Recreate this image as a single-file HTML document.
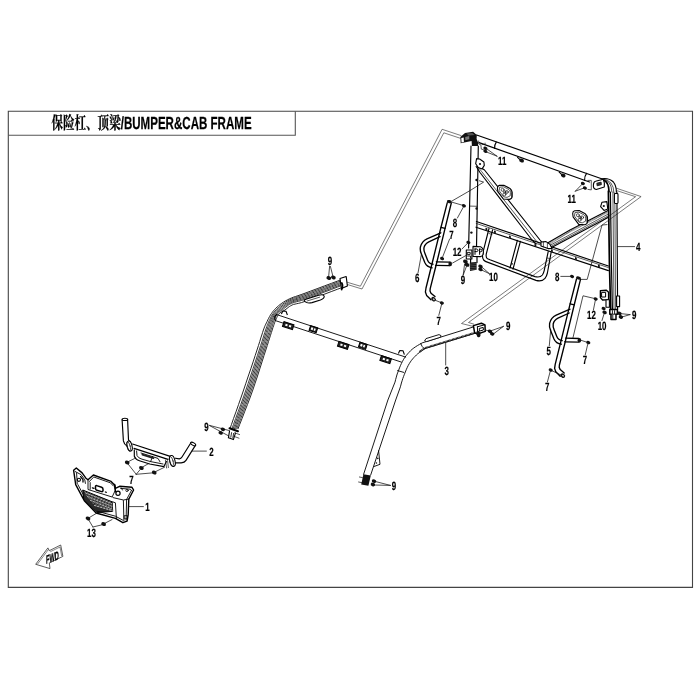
<!DOCTYPE html>
<html lang="zh"><head><meta charset="utf-8"><title>保险杠、顶梁/BUMPER&amp;CAB FRAME</title>
<style>
html,body{margin:0;padding:0;background:#fff;}
body{width:700px;height:700px;overflow:hidden;position:relative;font-family:"Liberation Sans","Noto Sans CJK SC",sans-serif;}
svg{position:absolute;left:0;top:0;display:block;will-change:transform;}
text{text-rendering:geometricPrecision;}
.l{fill:none;stroke:#000;stroke-width:1.15;stroke-linecap:round;stroke-linejoin:round;}
.t{fill:none;stroke:#111;stroke-width:0.7;stroke-linecap:round;stroke-linejoin:round;}
.h{fill:none;stroke:#000;stroke-width:1.7;stroke-linecap:round;stroke-linejoin:round;}
.w{fill:#fff;stroke:#000;stroke-width:1.1;stroke-linejoin:round;}
.g{fill:#888;stroke:#111;stroke-width:0.8;stroke-linejoin:round;}
.d{fill:#333;stroke:#111;stroke-width:0.8;stroke-linejoin:round;}
.k{fill:#111;stroke:none;}
.n{font-family:"Liberation Sans",sans-serif;font-weight:bold;fill:#000;text-anchor:middle;stroke:#000;stroke-width:0.22;}
.ld{fill:none;stroke:#111;stroke-width:0.75;stroke-linecap:round;}
#handles .l{stroke-width:1.35;}
.ph{fill:none;stroke:#222;stroke-width:0.6;stroke-linejoin:miter;}
</style></head><body>
<svg width="700" height="700" viewBox="0 0 700 700">
<g id="frame">
<path d="M8.3 111.2 H692.5 V587.4 H8.3Z" fill="none" stroke="#444" stroke-width="1.1"/>
<path d="M8.3 135.2 H295.3 V111.2" fill="none" stroke="#555" stroke-width="1.1"/>
<text transform="translate(51.4 129.1) scale(0.66 1)" font-size="17.5" font-weight="bold" fill="#000" stroke="#000" stroke-width="0.25" style="font-family:'Liberation Sans','Noto Serif CJK SC',sans-serif">保险杠、顶梁/BUMPER&amp;CAB FRAME</text>
</g>
<g id="phantom">
<path class="ph" d="M461.4 135.7 L442.1 129.3 L360.4 286.2 L347.0 282.2"/>
<path class="ph" d="M460.7 138.4 L443.8 132.8 L362.0 289.0 L347.0 284.4"/>
<path class="ph" d="M616.1 188.1 L641.1 196.6 L468.5 322.5 L474.0 324.2"/>
<path class="ph" d="M617.0 190.7 L635.6 196.7 L461.5 323.5 L474.0 326.6"/>
</g>
<g id="rear">
<path class="l" d="M476.6 135.0 L601.6 178.7"/>
<path class="l" d="M479.1 142.6 L584.4 180.2 L589.6 182.0"/>
<path class="l" d="M496.3 142.1 Q494.2 145 494.6 148.4"/>
<path class="l" d="M586.6 173.3 Q584.2 176.4 584.6 180.2"/>
<path class="l" d="M517.6 157.4 l2.6 2.4 l2.6 .4"/>
<ellipse class="k" cx="521.6" cy="160.6" rx="2.43" ry="1.86" transform="rotate(20 521.6 160.6)"/>
<path class="l" d="M559.2 172.2 l2.6 2.4 l2.6 .4"/>
<ellipse class="k" cx="563.2" cy="175.4" rx="2.43" ry="1.86" transform="rotate(20 563.2 175.4)"/>
<path class="k" d="M460.3 137.1 L465 132.9 L473.1 131.8 L476.8 135 L476.6 139 L478 142.3 L478 146.1 L471.9 146.1 L471.6 141 L460.7 143.3Z"/>
<path d="M461.3 137.9 L463.7 137.4 L463.9 142 L461.5 142.5Z" fill="#fff"/>
<path d="M465.2 137 L469.2 136.1 L469.3 139.3 L465.3 140.2Z" fill="#777"/>
<path d="M466.5 133.6 L472.3 133 L474.6 135 L468.5 135.6Z" fill="#555"/>
<path class="l" d="M471.0 146.0 L468.6 248.0"/>
<path class="l" d="M478.3 146.0 L476.5 247.5"/>
<path class="t" d="M469.9 206.1 L477.3 206.3"/>
<circle class="k" cx="476.5" cy="180.0" r="1.2"/>
<circle class="k" cx="476.6" cy="208.5" r="1.2"/>
<circle class="k" cx="471.4" cy="232.6" r="1.2"/>
<ellipse class="k" cx="468.4" cy="242.4" rx="2.11" ry="1.61" transform="rotate(20 468.4 242.4)"/>
<path class="t" d="M478.7 141 V144 L480.9 144.9 L481.3 149.1 L484.3 150 M482.1 144.4 H485.1 V143.1"/>
<ellipse class="k" cx="485.4" cy="148.3" rx="2.11" ry="1.61" transform="rotate(20 485.4 148.3)"/>
<ellipse class="k" cx="485.4" cy="151.2" rx="2.11" ry="1.61" transform="rotate(20 485.4 151.2)"/>
<path class="ld" d="M486.5 148.7 L497.0 156.2"/>
<path class="ld" d="M486.5 152.0 L497.0 156.2"/>
<path class="t" d="M587.9 180.4 H591.3 V189.9 L587.9 189.4"/>
<ellipse class="k" cx="582.9" cy="183.4" rx="2.11" ry="1.61" transform="rotate(20 582.9 183.4)"/>
<ellipse class="k" cx="584.9" cy="188.0" rx="2.11" ry="1.61" transform="rotate(20 584.9 188.0)"/>
<path class="ld" d="M575.3 191.2 L582.0 184.3"/>
<path class="ld" d="M575.3 191.2 L583.7 188.1"/>
<path class="w" d="M595.5 181.3 L603.3 179.2 Q605 183 604.3 187 L596.3 189.5 Q593 189 593.4 185 Q593.6 181.6 595.5 181.3Z"/>
<path class="d" d="M596.8 183.2 l4.3 -1.1 l.3 2.6 l-4.3 1.1Z"/>
<path class="l" d="M601.6 178.7 Q609 177.6 613.4 182 Q616.3 185.6 616.4 192"/>
<path class="h" d="M604.1 180.4 Q608.6 182 609 191.6"/>
<path class="t" d="M603.3 179.4 Q611.3 180 611.9 192"/>
<path class="t" d="M602.5 179 Q613.6 179.6 614 193"/>
<path class="h" d="M608.4 191.0 L609.4 262.0 L610.6 309.6"/>
<path class="l" d="M610.4 192.0 L611.4 262.0 L612.4 309.6" style="stroke-width:1.2"/>
<path class="t" d="M612.9 192.0 L614.0 309.6"/>
<path class="t" d="M614.8 193.0 L615.6 309.6"/>
<path class="l" d="M616.9 192.0 L617.6 309.6"/>
<path class="w" d="M614.4 194.4 q0 -.9 .9 -.9 h1.8 q.9 0 .9 .9 v8.2 q0 .9 -.9 .9 h-1.8 q-.9 0 -.9 -.9Z"/>
<path class="w" d="M602 202.2 L606.8 201.6 L607.8 209 L604 210.4 L600.6 206.6Z"/>
<circle class="k" cx="603.8" cy="206.0" r="1.1"/>
</g>
<g id="rear2">
<path class="l" d="M476.2 166.5 L480.0 172.5 L532.0 240.0 L536.0 244.0"/>
<path class="t" d="M478.6 167.8 L481.6 171.5 L535.5 240.0 L539.0 243.5"/>
<path class="l" d="M482.6 168.8 L484.5 170.0 L540.0 240.0 L543.0 243.6"/>
<path class="w" d="M476.6 158.6 L479.6 159 L483.9 162 L484.3 165.4 L482.1 168.9 L478.3 167.6 L475.7 163.7Z"/>
<circle class="k" cx="480.0" cy="164.0" r="1.1"/>
<g transform="translate(505.0 191.8) rotate(0.0) scale(1.00)">
<path class="w" d="M-5.6 -6.4 Q-7.6 -6 -7.6 -3.6 L-7.2 -0.4 L-1.6 7.2 L4.4 7.6 Q7 7 7.2 4.6 L7.2 0.6 Q7 -1.6 5 -3.4 L-1.2 -6.6Z" style="stroke-width:1.1"/>
<path class="t" d="M-5 -4.6 L-1.4 -5 L4 -2.2 Q5.4 -1 5.4 1 L5.2 4 L2 5.6 L-1.4 5 L-5.6 -0.8Z"/>
<path class="t" d="M5.6 -2.4 Q7 0 6.6 5"/>
<circle class="t" cx="-2.4" cy="-2" r="1.5"/><circle class="t" cx="1.8" cy="0.2" r="1.5"/><circle class="t" cx="-0.6" cy="2.6" r="1.5"/><circle class="t" cx="-0.2" cy="0.2" r="1.2"/>
</g>
<path class="l" d="M545.4 244.3 L570.0 230.0 L608.0 210.4"/>
<path class="h" d="M546.6 245.4 L570.0 231.6 L608.0 212.0" style="stroke:#333;stroke-width:1.6;stroke-dasharray:0.6 0.6;stroke-linecap:butt"/>
<path class="t" d="M548.5 246.2 L608.0 214.2"/>
<path class="t" d="M550.0 247.0 L608.0 216.0"/>
<path class="l" d="M551.6 247.6 L608.0 217.6"/>
<g transform="translate(580.3 217.2) rotate(0.0) scale(1.00)">
<path class="w" d="M-5.6 -6.4 Q-7.6 -6 -7.6 -3.6 L-7.2 -0.4 L-1.6 7.2 L4.4 7.6 Q7 7 7.2 4.6 L7.2 0.6 Q7 -1.6 5 -3.4 L-1.2 -6.6Z" style="stroke-width:1.1"/>
<path class="t" d="M-5 -4.6 L-1.4 -5 L4 -2.2 Q5.4 -1 5.4 1 L5.2 4 L2 5.6 L-1.4 5 L-5.6 -0.8Z"/>
<path class="t" d="M5.6 -2.4 Q7 0 6.6 5"/>
<circle class="t" cx="-2.4" cy="-2" r="1.5"/><circle class="t" cx="1.8" cy="0.2" r="1.5"/><circle class="t" cx="-0.6" cy="2.6" r="1.5"/><circle class="t" cx="-0.2" cy="0.2" r="1.2"/>
</g>
<path class="l" d="M476.4 221.5 L608.4 266.0"/>
<path class="t" d="M476.2 223.4 L608.4 267.6"/>
<path class="l" d="M476.0 227.2 L608.4 270.6"/>
<path class="k" d="M485.5 227.7 l1.8 .6 l0 2.2 l-1.8 -.6Z"/>
<path class="k" d="M494.0 230.5 l1.8 .6 l0 2.2 l-1.8 -.6Z"/>
<path class="k" d="M509.0 235.4 l1.8 .6 l0 2.2 l-1.8 -.6Z"/>
<path class="k" d="M534.5 243.8 l1.8 .6 l0 2.2 l-1.8 -.6Z"/>
<path class="k" d="M551.0 249.2 l1.8 .6 l0 2.2 l-1.8 -.6Z"/>
<path class="k" d="M575.0 257.1 l1.8 .6 l0 2.2 l-1.8 -.6Z"/>
<path class="k" d="M598.0 264.6 l1.8 .6 l0 2.2 l-1.8 -.6Z"/>
<path class="w" d="M541 242 L546 241.6 L550 244.4 L552 248.4 L548 248.6 L541 246Z"/>
<path class="t" d="M543.4 242.0 L543.4 246.8"/>
<path class="t" d="M547.4 243.0 L547.4 248.4"/>
</g>
<g id="rear3">
<path class="l" d="M489 228.5 L482.9 252.6 Q481.8 257.6 483.6 260 Q485 261.6 488 262.4 L536 280.4 Q542 282 545 278.4 Q546.6 276.4 547.4 273 L551.2 252"/>
<path class="l" d="M492.6 229.8 L486.3 253.9 Q485.6 257.6 487.6 258.8 L490 259.8 L535 276.6 Q540 278 542.4 275 Q543.6 273 544.2 270.6 L548.2 251.6"/>
<path class="l" d="M517.4 240.4 L510.0 268.0"/>
<path class="l" d="M520.4 241.4 L513.0 269.2"/>
<circle class="k" cx="512.0" cy="263.8" r="0.9"/>
<path class="t" d="M489.0 233.5 L492.0 234.5"/>
<path class="t" d="M547.2 258.0 L550.2 258.6"/>
<path class="w" d="M466.3 250 h5.6 v9 h-5.6Z" style="stroke-width:1.1"/>
<path class="l" d="M467.6 252.4 h2.6 v2 h-2.6Z M467.6 256 h3 v1.6" style="stroke-width:.9"/>
<path class="w" d="M473 246.4 L480.6 246.8 Q483.4 248 483.4 252.6 Q483.2 256.2 480.6 256.6 L473 256.4Z" style="stroke-width:1.1"/>
<path class="l" d="M475 248.8 V254.4 M475 249 h1.8 q1.2 .2 1.2 1.3 t-1.2 1.3 h-1.8 M479.6 249 V254.4 M479.6 249.2 h1.3 q1 .2 1 1.3 t-1 1.3 h-1.3" style="stroke-width:1"/>
<path class="l" d="M470.6 259 V262.6 M477 256.6 V262.6"/>
<path class="k" d="M469.8 262.6 L476.6 262 L476.6 269.8 L470 271Z"/>
<path class="t" d="M470 264.2 l6.6 -.6 M470 266 l6.6 -.6 M470 267.8 l6.6 -.6 M470 269.6 l6.6 -.6" style="stroke:#999;stroke-width:.4"/>
<ellipse class="k" cx="465.4" cy="261.6" rx="2.43" ry="1.86" transform="rotate(20 465.4 261.6)"/>
<ellipse class="k" cx="467.0" cy="264.8" rx="2.43" ry="1.86" transform="rotate(20 467.0 264.8)"/>
<ellipse class="k" cx="480.5" cy="266.3" rx="2.27" ry="1.74" transform="rotate(20 480.5 266.3)"/>
<ellipse class="k" cx="480.5" cy="269.4" rx="2.27" ry="1.74" transform="rotate(20 480.5 269.4)"/>
<path class="ld" d="M464.6 264.0 L463.2 275.0"/>
<path class="ld" d="M466.6 266.0 L463.2 275.0"/>
<path class="ld" d="M481.6 266.8 L489.3 273.6"/>
<path class="ld" d="M481.6 270.0 L489.3 273.6"/>
<path class="ld" d="M467.2 243.6 L462.0 249.0"/>
<path class="w" d="M600.4 290.6 L606.4 290.2 L608.6 292.2 L608.6 299.6 L602.6 300 L600.4 297.6Z" style="stroke-width:1.4"/>
<path class="l" d="M602 292.4 h3.6 v4.6 h-3.6Z" style="stroke-width:1"/>
<path class="w" d="M606 299.8 h3.4 v7.4 h-3.4Z"/>
<path class="w" d="M616.6 296 h3 v10.6 h-3Z"/>
<path class="w" d="M609.8 309.6 h7.6 v4.6 h-1.4 v5.2 h-5 v-5.2 h-1.2Z" style="stroke-width:1.5"/>
<path class="l" d="M611 314.2 h5 M612.8 315 v3.6 M614.6 310.6 v3 M612.4 310.6 v3" style="stroke-width:.9"/>
<ellipse class="k" cx="595.7" cy="298.9" rx="2.11" ry="1.61" transform="rotate(20 595.7 298.9)"/>
<ellipse class="k" cx="603.6" cy="308.6" rx="2.11" ry="1.61" transform="rotate(20 603.6 308.6)"/>
<ellipse class="k" cx="604.6" cy="312.4" rx="2.27" ry="1.74" transform="rotate(20 604.6 312.4)"/>
<ellipse class="k" cx="619.4" cy="313.4" rx="2.27" ry="1.74" transform="rotate(20 619.4 313.4)"/>
<ellipse class="k" cx="620.9" cy="317.0" rx="2.27" ry="1.74" transform="rotate(20 620.9 317.0)"/>
<path class="ld" d="M620.5 313.6 L630.0 314.6"/>
<path class="ld" d="M622.0 317.0 L630.0 314.6"/>
<path class="ld" d="M604.0 314.0 L602.0 320.5"/>
<path class="ld" d="M595.4 300.0 L593.4 310.0"/>
<path class="ld" d="M617.4 246.6 L634.6 246.6"/>
</g>
<g id="handles" style="stroke-width:1.35">
<path class="l" d="M447.3 202.6 L440.8 228.0 L432.2 263.0 L426.0 288.0 L425.4 292.0 L426.6 295.4 L431.0 299.8"/>
<path class="l" d="M451.3 203.0 L445.0 228.6 L436.4 264.0 L430.2 288.6 L430.0 291.0 L431.0 293.2 L435.0 296.6"/>
<ellipse class="k" cx="449.3" cy="201.6" rx="2.5" ry="1.6" transform="rotate(12 449.3 201.6)"/>
<ellipse class="k" cx="433.6" cy="299.2" rx="2.6" ry="2" transform="rotate(40 433.6 299.2)"/>
<ellipse cx="433.8" cy="299.3" rx="1.1" ry=".8" fill="#bbb" transform="rotate(40 433.8 299.3)"/>
<path class="l" d="M441.0 227.4 L445.0 228.4"/>
<path class="l" d="M440.8 232.8 L427.0 238.8 Q421.8 241.2 420.4 247.0 Q419.8 250.6 421.4 254.0 L424.8 262.6 Q426.8 267.2 432.2 267.8"/>
<path class="l" d="M440.0 236.6 L428.8 241.8 Q424.8 243.8 424.0 247.6 Q423.6 250.4 424.8 253.0 L427.6 260.2 Q429.0 263.8 433.0 264.2"/>
<path class="l" d="M436.4 261.8 L449.6 262.1"/>
<path class="l" d="M435.6 265.4 L449.4 265.7"/>
<ellipse class="k" cx="450.2" cy="263.9" rx="1.8" ry="2.4" />
<path class="l" d="M576.5 279.0 L570.0 304.4 L561.4 339.4 L555.2 364.4 L554.6 368.4 L555.8 371.8 L560.2 376.2"/>
<path class="l" d="M580.5 279.4 L574.2 305.0 L565.6 340.4 L559.4 365.0 L559.2 367.4 L560.2 369.6 L564.2 373.0"/>
<ellipse class="k" cx="578.5" cy="278.0" rx="2.5" ry="1.6" transform="rotate(12 578.5 278.0)"/>
<ellipse class="k" cx="562.8" cy="375.6" rx="2.6" ry="2" transform="rotate(40 562.8 375.6)"/>
<ellipse cx="563.0" cy="375.7" rx="1.1" ry=".8" fill="#bbb" transform="rotate(40 563.0 375.7)"/>
<path class="l" d="M570.2 303.8 L574.2 304.8"/>
<path class="l" d="M570.0 309.2 L556.2 315.2 Q551.0 317.6 549.6 323.4 Q549.0 327.0 550.6 330.4 L554.0 339.0 Q556.0 343.6 561.4 344.2"/>
<path class="l" d="M569.2 313.0 L558.0 318.2 Q554.0 320.2 553.2 324.0 Q552.8 326.8 554.0 329.4 L556.8 336.6 Q558.2 340.2 562.2 340.6"/>
<path class="l" d="M565.6 338.2 L578.8 338.5"/>
<path class="l" d="M564.8 341.8 L578.6 342.1"/>
<ellipse class="k" cx="579.4" cy="340.3" rx="1.8" ry="2.4" />
</g>
<g id="labels">
<text class="n" transform="translate(502.3 164.7) scale(0.66 1)" font-size="12">11</text>
<text class="n" transform="translate(571.7 203.0) scale(0.66 1)" font-size="12">11</text>
<text class="n" transform="translate(638.2 250.7) scale(0.66 1)" font-size="12">4</text>
<text class="n" transform="translate(455.0 227.4) scale(0.66 1)" font-size="12">8</text>
<text class="n" transform="translate(451.4 238.7) scale(0.66 1)" font-size="12">7</text>
<text class="n" transform="translate(457.1 255.8) scale(0.66 1)" font-size="12">12</text>
<text class="n" transform="translate(417.1 282.4) scale(0.66 1)" font-size="12">6</text>
<text class="n" transform="translate(462.9 283.7) scale(0.66 1)" font-size="12">9</text>
<text class="n" transform="translate(493.4 280.7) scale(0.66 1)" font-size="12">10</text>
<text class="n" transform="translate(438.6 325.1) scale(0.66 1)" font-size="12">7</text>
<text class="n" transform="translate(557.3 281.4) scale(0.66 1)" font-size="12">8</text>
<text class="n" transform="translate(591.4 318.7) scale(0.66 1)" font-size="12">12</text>
<text class="n" transform="translate(602.1 330.1) scale(0.66 1)" font-size="12">10</text>
<text class="n" transform="translate(634.3 319.4) scale(0.66 1)" font-size="12">9</text>
<text class="n" transform="translate(548.6 355.1) scale(0.66 1)" font-size="12">5</text>
<text class="n" transform="translate(585.0 364.4) scale(0.66 1)" font-size="12">7</text>
<text class="n" transform="translate(547.1 391.4) scale(0.66 1)" font-size="12">7</text>
<text class="n" transform="translate(330.0 265.1) scale(0.66 1)" font-size="12">9</text>
<text class="n" transform="translate(508.2 330.4) scale(0.66 1)" font-size="12">9</text>
<text class="n" transform="translate(446.7 375.4) scale(0.66 1)" font-size="12">3</text>
<text class="n" transform="translate(206.4 430.8) scale(0.66 1)" font-size="12">9</text>
<text class="n" transform="translate(394.0 490.1) scale(0.66 1)" font-size="12">9</text>
<text class="n" transform="translate(211.4 455.8) scale(0.66 1)" font-size="12">2</text>
<text class="n" transform="translate(131.4 483.7) scale(0.66 1)" font-size="12">7</text>
<text class="n" transform="translate(147.4 510.8) scale(0.66 1)" font-size="12">1</text>
<text class="n" transform="translate(91.4 537.4) scale(0.66 1)" font-size="12">13</text>
</g>
<g id="leaders">
<ellipse class="k" cx="463.9" cy="205.7" rx="2.11" ry="1.61" transform="rotate(20 463.9 205.7)"/>
<path class="ld" d="M452.0 202.2 L463.0 205.4"/>
<path class="ld" d="M463.6 206.6 L457.4 218.0"/>
<path class="ld" d="M452.0 201.0 L470.0 190.6 L483.6 182.1 L479.4 180.8"/>
<ellipse class="k" cx="442.1" cy="258.6" rx="2.11" ry="1.61" transform="rotate(20 442.1 258.6)"/>
<path class="ld" d="M449.6 239.0 L442.4 257.6"/>
<path class="ld" d="M421.4 254.3 L418.0 273.0"/>
<path class="ld" d="M452.6 263.0 L466.2 255.4"/>
<ellipse class="k" cx="441.9" cy="302.9" rx="2.11" ry="1.61" transform="rotate(20 441.9 302.9)"/>
<path class="ld" d="M435.6 300.4 L441.0 302.6"/>
<path class="ld" d="M441.6 304.4 L438.8 315.4"/>
<ellipse class="k" cx="572.1" cy="276.4" rx="2.11" ry="1.61" transform="rotate(20 572.1 276.4)"/>
<path class="ld" d="M560.8 276.4 L571.0 276.4"/>
<path class="ld" d="M581.0 279.4 L587.2 279.4 L602.0 225.0 L607.0 224.6"/>
<path class="ld" d="M595.0 298.6 L583.0 295.8 L573.0 337.6"/>
<ellipse class="k" cx="588.3" cy="342.6" rx="2.11" ry="1.61" transform="rotate(20 588.3 342.6)"/>
<path class="ld" d="M581.4 340.4 L587.4 342.4"/>
<path class="ld" d="M587.8 344.0 L585.2 355.0"/>
<path class="ld" d="M550.7 330.0 L549.3 345.7"/>
<ellipse class="k" cx="550.7" cy="370.0" rx="2.11" ry="1.61" transform="rotate(20 550.7 370.0)"/>
<path class="ld" d="M551.6 370.6 L561.0 375.0"/>
<path class="ld" d="M550.2 371.4 L547.4 382.0"/>
</g>
<g id="main">
<path class="l" d="M342.0 279.4 L337.7 281.0 L331.6 283.3 L324.5 285.9 L317.1 288.7 L310.4 291.2 L305.0 293.2 L301.1 294.6 L298.0 295.7 L295.5 296.5 L293.4 297.2 L291.4 298.0 L289.3 298.9 L287.2 300.0 L285.2 301.0 L283.4 302.2 L281.7 303.3 L280.1 304.5 L278.6 305.7 L277.2 306.9 L275.9 308.2 L274.6 309.5 L273.5 310.8 L272.4 312.2 L271.4 313.6 L270.4 315.1 L269.5 316.7 L268.6 318.3 L267.8 319.9 L267.1 321.5 L266.4 322.9 L265.8 324.1 L265.4 325.0 L265.0 325.8 L264.6 326.8 L264.1 328.1 L263.4 330.0 L262.6 332.4 L261.8 335.0 L260.8 337.9 L259.8 341.4 L258.5 345.4 L257.0 350.0 L255.2 355.5 L253.1 361.9 L250.8 368.8 L248.3 376.0 L245.9 383.2 L243.6 390.0 L241.2 397.0 L238.6 404.4 L236.0 411.8 L233.5 418.6 L231.5 424.4 L230.0 428.6" style="stroke-width:0.95;stroke:#1a1a1a"/>
<path class="l" d="M341.9 280.6 L337.7 282.2 L331.6 284.5 L324.4 287.2 L317.1 289.9 L310.3 292.5 L305.0 294.4 L301.1 295.8 L298.1 296.8 L295.7 297.6 L293.6 298.2 L291.7 298.9 L289.7 299.8 L287.7 300.8 L285.9 301.9 L284.2 303.0 L282.6 304.2 L281.1 305.3 L279.7 306.5 L278.4 307.6 L277.1 308.7 L276.0 309.9 L274.9 311.1 L273.9 312.3 L273.0 313.6 L272.1 315.0 L271.3 316.4 L270.5 317.9 L269.8 319.4 L269.1 320.8 L268.5 322.2 L268.0 323.4 L267.5 324.4 L267.2 325.4 L266.8 326.5 L266.3 328.0 L265.6 330.0 L264.8 332.4 L264.0 335.0 L263.1 338.0 L262.0 341.4 L260.7 345.4 L259.2 350.0 L257.4 355.5 L255.3 361.9 L253.0 368.8 L250.6 376.0 L248.2 383.2 L245.9 390.0 L243.5 397.0 L240.8 404.4 L238.1 411.8 L235.6 418.6 L233.5 424.4 L232.0 428.6" style="stroke-width:0.85;stroke:#1a1a1a"/>
<path class="l" d="M341.9 281.9 L337.6 283.5 L331.5 285.8 L324.4 288.5 L317.0 291.2 L310.3 293.7 L305.0 295.7 L301.2 297.0 L298.2 297.9 L295.9 298.7 L293.9 299.3 L292.0 299.9 L290.1 300.7 L288.2 301.7 L286.5 302.8 L284.9 303.8 L283.4 304.9 L282.0 306.0 L280.7 307.1 L279.4 308.2 L278.2 309.2 L277.1 310.2 L276.1 311.3 L275.1 312.4 L274.2 313.6 L273.3 314.9 L272.5 316.2 L271.8 317.6 L271.1 319.0 L270.5 320.4 L269.9 321.8 L269.4 323.0 L268.9 324.1 L268.5 325.2 L268.1 326.4 L267.6 328.0 L266.9 330.0 L266.1 332.4 L265.3 335.1 L264.4 338.0 L263.3 341.4 L262.0 345.4 L260.5 350.0 L258.7 355.5 L256.6 361.9 L254.4 368.8 L252.0 376.0 L249.6 383.2 L247.3 390.0 L244.8 397.0 L242.1 404.4 L239.4 411.8 L236.9 418.6 L234.8 424.4 L233.2 428.6" style="stroke-width:0.85;stroke:#1a1a1a"/>
<path class="l" d="M341.8 283.1 L337.6 284.7 L331.4 287.0 L324.3 289.7 L317.0 292.5 L310.3 295.0 L305.0 296.9 L301.2 298.2 L298.3 299.1 L296.0 299.7 L294.1 300.3 L292.4 300.9 L290.6 301.6 L288.7 302.6 L287.1 303.6 L285.6 304.6 L284.2 305.7 L282.9 306.7 L281.6 307.7 L280.4 308.7 L279.3 309.6 L278.2 310.6 L277.2 311.5 L276.2 312.5 L275.4 313.6 L274.5 314.8 L273.8 316.0 L273.1 317.3 L272.5 318.7 L271.9 320.0 L271.3 321.4 L270.8 322.6 L270.3 323.8 L269.9 324.9 L269.5 326.3 L268.9 327.9 L268.2 330.0 L267.4 332.4 L266.6 335.1 L265.7 338.0 L264.6 341.4 L263.3 345.4 L261.8 350.0 L260.0 355.5 L258.0 361.9 L255.7 368.8 L253.4 376.0 L251.0 383.2 L248.7 390.0 L246.2 397.0 L243.5 404.4 L240.7 411.8 L238.2 418.6 L236.0 424.4 L234.5 428.6" style="stroke-width:0.85;stroke:#1a1a1a"/>
<path class="l" d="M341.8 284.4 L337.5 286.0 L331.4 288.3 L324.3 291.0 L316.9 293.7 L310.2 296.2 L305.0 298.1 L301.3 299.4 L298.4 300.2 L296.2 300.8 L294.4 301.3 L292.7 301.8 L291.0 302.6 L289.2 303.5 L287.7 304.4 L286.3 305.4 L285.0 306.4 L283.8 307.4 L282.6 308.4 L281.4 309.3 L280.3 310.1 L279.3 310.9 L278.3 311.7 L277.4 312.6 L276.5 313.6 L275.8 314.7 L275.1 315.8 L274.4 317.0 L273.8 318.3 L273.3 319.6 L272.7 320.9 L272.2 322.2 L271.7 323.4 L271.3 324.7 L270.8 326.1 L270.3 327.8 L269.6 330.0 L268.8 332.5 L267.9 335.1 L267.0 338.1 L265.9 341.4 L264.7 345.4 L263.2 350.0 L261.4 355.5 L259.3 361.9 L257.1 368.8 L254.8 376.0 L252.4 383.2 L250.0 390.0 L247.6 397.0 L244.8 404.4 L242.0 411.8 L239.4 418.6 L237.2 424.4 L235.7 428.6" style="stroke-width:0.85;stroke:#1a1a1a"/>
<path class="l" d="M341.7 285.5 L337.4 287.1 L331.3 289.5 L324.2 292.1 L316.9 294.9 L310.2 297.4 L305.0 299.3 L301.3 300.5 L298.5 301.3 L296.4 301.8 L294.6 302.3 L293.0 302.8 L291.4 303.4 L289.7 304.3 L288.2 305.2 L287.0 306.2 L285.8 307.2 L284.6 308.1 L283.5 309.0 L282.4 309.8 L281.3 310.5 L280.3 311.2 L279.4 311.9 L278.5 312.7 L277.7 313.6 L276.9 314.6 L276.3 315.6 L275.7 316.8 L275.1 317.9 L274.6 319.2 L274.0 320.5 L273.5 321.8 L273.1 323.1 L272.6 324.4 L272.2 326.0 L271.6 327.8 L270.9 330.0 L270.1 332.5 L269.2 335.1 L268.3 338.1 L267.2 341.5 L266.0 345.4 L264.5 350.0 L262.7 355.5 L260.7 361.9 L258.5 368.8 L256.1 376.0 L253.8 383.2 L251.4 390.0 L248.9 397.0 L246.1 404.4 L243.3 411.8 L240.7 418.6 L238.5 424.4 L236.9 428.6" style="stroke-width:0.85;stroke:#1a1a1a"/>
<path class="l" d="M341.6 287.7 L337.3 289.3 L331.2 291.6 L324.1 294.3 L316.8 297.1 L310.2 299.5 L305.0 301.4 L301.4 302.6 L298.7 303.3 L296.7 303.7 L295.1 304.1 L293.6 304.4 L292.1 305.0 L290.6 305.8 L289.3 306.6 L288.1 307.5 L287.0 308.4 L286.0 309.2 L285.0 310.0 L283.9 310.6 L282.9 311.2 L281.9 311.7 L281.0 312.2 L280.1 312.9 L279.3 313.6 L278.6 314.5 L277.9 315.4 L277.4 316.4 L276.8 317.5 L276.3 318.7 L275.7 320.0 L275.1 321.3 L274.6 322.7 L274.1 324.1 L273.6 325.8 L272.9 327.7 L272.2 330.0 L271.4 332.5 L270.5 335.2 L269.6 338.1 L268.5 341.5 L267.3 345.4 L265.8 350.0 L264.0 355.5 L262.0 361.9 L259.8 368.8 L257.5 376.0 L255.1 383.2 L252.8 390.0 L250.3 397.0 L247.5 404.4 L244.6 411.8 L242.0 418.6 L239.7 424.4 L238.1 428.6" style="stroke-width:0.95;stroke:#1a1a1a"/>
<path class="h" d="M229.6 428.3 L237.9 431.2" style="stroke-width:2.2"/>
<path class="w" d="M229.6 430.6 L228.4 437.8 L233.4 439.6 L235.6 432.6" style="stroke-width:1.1"/>
<path class="l" d="M231.6 432.6 l-.8 4.6 M233.6 433.4 l-.8 4.6" style="stroke-width:.8"/>
<path class="t" d="M234.6 432.8 L239.6 434.6"/>
<path class="t" d="M233.6 436.2 L239.0 438.2"/>
<path class="w" d="M340 278.6 L346.2 276.6 L347.4 286 L341.4 288.4Z"/>
<path class="h" d="M341.8 283 Q343.4 286 341.6 289.6"/>
<ellipse class="k" cx="328.8" cy="278.0" rx="2.43" ry="1.86" transform="rotate(20 328.8 278.0)"/>
<ellipse class="k" cx="333.4" cy="277.4" rx="2.43" ry="1.86" transform="rotate(20 333.4 277.4)"/>
<path class="ld" d="M329.6 266.4 L328.6 277.0"/>
<path class="ld" d="M330.4 266.4 L333.0 276.6"/>
<path class="w" d="M305 301.6 Q303 300.4 306 299.2 L318.6 295.2 Q323.6 294 324.2 296.2 Q324.6 298.4 320.4 300 L312 302.6 Q307 303.6 305 301.6Z" style="stroke-width:1.1"/>
<path class="t" d="M307 301 L319.6 297.2"/>
<path class="l" d="M276.7 314.6 L405.7 357.1 M275.4 320.6 L401.4 362.1" style="stroke-width:.9"/>
<path class="l" d="M276.7 314.6 Q273.6 316.6 275.4 320.6"/>
<g transform="translate(284.0 321.6) rotate(18)">
<path d="M0 0 h10.5 v5 h-10.5Z" fill="#222" stroke="#000" stroke-width="1"/>
<path d="M2.3 1.5 h2.2 v2 h-2.2Z M6.1 1.5 h2.2 v2 h-2.2Z" fill="#fff"/>
</g>
<g transform="translate(310.6 325.6) rotate(18)">
<path d="M0 0 h7.5 v5 h-7.5Z" fill="#222" stroke="#000" stroke-width="1"/>
<path d="M1.3 1.3 h2 v2.4 h-2Z M4.3 1.3 h1.6 v2.4 h-1.6Z" fill="#fff"/>
</g>
<g transform="translate(339.0 341.4) rotate(18)">
<path d="M0 0 h10.5 v5 h-10.5Z" fill="#222" stroke="#000" stroke-width="1"/>
<path d="M2.3 1.5 h2.2 v2 h-2.2Z M6.1 1.5 h2.2 v2 h-2.2Z" fill="#fff"/>
</g>
<g transform="translate(360.0 342.2) rotate(18)">
<path d="M0 0 h7.5 v5 h-7.5Z" fill="#222" stroke="#000" stroke-width="1"/>
<path d="M1.3 1.3 h2 v2.4 h-2Z M4.3 1.3 h1.6 v2.4 h-1.6Z" fill="#fff"/>
</g>
<g transform="translate(381.4 355.6) rotate(18)">
<path d="M0 0 h10.5 v5 h-10.5Z" fill="#222" stroke="#000" stroke-width="1"/>
<path d="M2.3 1.5 h2.2 v2 h-2.2Z M6.1 1.5 h2.2 v2 h-2.2Z" fill="#fff"/>
</g>
<path class="w" d="M281.4 314 l1.4 -3 l3.2 .2 l1.4 3.8" style="stroke-width:1.1"/>
<path class="w" d="M398.4 353.6 l1.4 -3 l3.2 .2 l1.4 3.8" style="stroke-width:1.1"/>
<path class="l" d="M472.9 327.1 L422.1 342.9 L421.0 343.6 L419.5 344.4 L417.6 345.5 L415.7 346.7 L413.8 348.0 L412.1 349.3 L410.6 350.7 L409.1 352.3 L407.6 353.9 L406.2 355.6 L404.8 357.4 L403.6 359.3 L402.5 361.3 L401.4 363.5 L400.4 365.7 L399.5 367.9 L398.7 370.1 L397.9 372.1 L397.2 374.0 L396.6 376.0 L396.1 377.9 L395.6 379.6 L395.3 381.0 L395.0 382.1 L387.9 400.0 L363.6 474.3" style="stroke-width:.9"/>
<path class="l" d="M476.4 332.9 L425.0 348.6 L424.0 349.3 L422.7 350.2 L421.1 351.3 L419.5 352.5 L417.8 353.7 L416.4 355.0 L415.1 356.3 L413.9 357.5 L412.7 358.9 L411.5 360.3 L410.4 361.9 L409.3 363.6 L408.2 365.5 L407.2 367.6 L406.2 369.8 L405.3 372.1 L404.4 374.3 L403.6 376.4 L402.8 378.5 L402.1 380.8 L401.4 383.0 L400.9 385.0 L400.4 386.8 L400.0 388.0 L395.7 400.0 L370.7 475.0" style="stroke-width:.9"/>
<path class="h" d="M476.2 332.3 L424.7 348.1 L423.7 348.8 L422.4 349.7 L420.8 350.8 L419.1 352.0" style="stroke:#111;stroke-width:1.9;stroke-dasharray:.9 .45;stroke-linecap:butt"/>
<path class="l" d="M420.7 343.6 Q421.6 346.6 424.3 348.8 M397.6 370.6 L403.8 372.4" style="stroke-width:.9"/>
<path class="w" d="M424.6 340.8 L426 338.6 L439 334.6 L441 335.6 L440.6 337.2 L426.6 341.6Z" style="stroke-width:.9"/>
<path class="w" d="M473.4 325.6 L481.4 323.2 L485 325 L485.2 331.4 L477.6 334 L474.6 332.6Z" style="stroke-width:1.5"/>
<path class="l" d="M477.4 326.8 L484.6 324.8 M477.4 326.8 L477.6 333.6 M479.6 328.4 l3.6 -1 l.2 2.6 l-3.6 1Z" style="stroke-width:1"/>
<ellipse class="k" cx="478.4" cy="334" rx="2" ry="3.2" transform="rotate(-12 478.4 334)"/>
<ellipse class="k" cx="490.0" cy="331.4" rx="2.27" ry="1.74" transform="rotate(20 490.0 331.4)"/>
<ellipse class="k" cx="492.2" cy="333.8" rx="2.27" ry="1.74" transform="rotate(20 492.2 333.8)"/>
<path class="ld" d="M485.4 330.0 L489.0 331.0"/>
<path class="ld" d="M491.0 330.8 L503.4 326.4"/>
<path class="ld" d="M493.4 334.0 L503.4 326.4"/>
<path class="l" d="M378.6 450.7 L380 464.3 L374.3 466.4" style="stroke-width:.9"/>
<circle class="k" cx="377.8" cy="458.4" r="0.8"/>
<circle class="k" cx="376.4" cy="463.0" r="0.8"/>
<path class="k" d="M363.4 474.2 L370.8 475.4 L368.4 485.8 L361.2 484.4Z"/>
<path class="t" d="M359.4 477 l3 .6 M358.6 482 l3 .6"/>
<ellipse class="k" cx="374.0" cy="481.1" rx="2.27" ry="1.74" transform="rotate(20 374.0 481.1)"/>
<ellipse class="k" cx="372.9" cy="484.5" rx="2.27" ry="1.74" transform="rotate(20 372.9 484.5)"/>
<path class="ld" d="M375.0 481.4 L390.4 485.4"/>
<path class="ld" d="M374.0 485.0 L390.4 485.4"/>
<path class="ld" d="M445.7 342.6 L445.7 365.0"/>
<ellipse class="k" cx="222.9" cy="429.3" rx="2.27" ry="1.74" transform="rotate(20 222.9 429.3)"/>
<ellipse class="k" cx="220.7" cy="432.9" rx="2.27" ry="1.74" transform="rotate(20 220.7 432.9)"/>
<path class="ld" d="M209.6 425.4 L229.4 430.6"/>
<path class="ld" d="M209.6 425.6 L228.8 436.0"/>
</g>
<g id="bar2">
<path class="l" d="M122.1 419.8 L123.4 440.9 Q124 444.4 127.2 446.2 M127.6 419.8 L128.5 439.6 Q128.8 441.4 130.4 442.1"/>
<ellipse class="w" cx="124.9" cy="419.4" rx="2.8" ry="1.1"/>
<path class="l" d="M132.6 444 L171 456.6 M134 448.4 L168 459.4"/>
<path class="l" d="M134.3 449.9 L134.3 456.3 Q135.6 459.6 139.4 460.8 L149.7 464 L163.9 466.6 L166.4 461.4"/>
<path class="l" d="M136.6 451 L137 455.6 Q138.6 458.4 142 459.2 L150.6 461.6 L163 464 M150.6 461.6 L152.6 456.4 M141 453 L158 458.4 L160 461.8" style="stroke-width:.9"/>
<path class="h" d="M142.4 454.6 l11 3.6" style="stroke-width:1.8;stroke:#222"/>
<path class="t" d="M165.4 460 L166.6 468 M167.6 460.6 L168.4 467.6"/>
<ellipse class="w" cx="129.6" cy="446" rx="2.4" ry="5.2" transform="rotate(-14 129.6 446)"/>
<ellipse class="t" cx="128.6" cy="446.4" rx="1.6" ry="4.6" transform="rotate(-14 128.6 446.4)"/>
<ellipse class="w" cx="172.4" cy="461" rx="2.6" ry="5.6" transform="rotate(-14 172.4 461)"/>
<ellipse class="t" cx="171.4" cy="461.4" rx="1.7" ry="4.8" transform="rotate(-14 171.4 461.4)"/>
<path class="l" d="M175.4 458.2 L179.3 458.9 Q181 458.6 182 457 L190.9 442.8 M175.4 462.9 L181.2 462.9 Q184.6 462.6 186 460.4 L195.4 445.4"/>
<ellipse class="w" cx="193.2" cy="444" rx="2.8" ry="1.3" transform="rotate(30 193.2 444)"/>
<ellipse class="k" cx="127.2" cy="462.5" rx="2.43" ry="1.86" transform="rotate(20 127.2 462.5)"/>
<ellipse class="k" cx="141.4" cy="467.9" rx="2.43" ry="1.86" transform="rotate(20 141.4 467.9)"/>
<ellipse class="k" cx="154.2" cy="472.6" rx="2.43" ry="1.86" transform="rotate(20 154.2 472.6)"/>
<path class="ld" d="M136.2 474.3 L127.6 463.4"/>
<path class="ld" d="M136.2 474.3 L141.0 468.6"/>
<path class="ld" d="M136.2 474.3 L153.4 472.8"/>
<path class="ld" d="M127.6 462.0 L134.4 458.6"/>
<path class="ld" d="M141.8 467.4 L149.0 463.4"/>
<path class="ld" d="M154.8 472.0 L164.6 467.2"/>
<path class="ld" d="M192.1 451.1 L206.4 451.1"/>
</g>
<g id="bumper1">
<path class="w" d="M73.6 470.2 L76.3 468 L82.1 472.9 L85.9 478.2 L88 479.8 L93.4 475 L111.1 481.4 L114.8 485.2 L115.4 488.4 L119.6 486.3 L132 487.3 L133.6 490 L128.8 499.1 L128.2 514.6 L127.1 521.1 L122.9 522.7 L115.4 518.4 L96.1 513 L84.3 500.7 L75.7 484.6Z" style="stroke-width:1.4"/>
<path class="l" d="M75.3 471.6 L81 474.6 L84.8 479.8 L85.4 483.4 M77.9 484.6 L85.9 499.6 L97 511 M76.6 473 L77.2 483.6" style="stroke-width:.9"/>
<path d="M82.7 490 L112.1 501.8 L112.7 511.4 L97.1 512.5 L83.8 499.6Z" fill="#2a2a2a" stroke="#000" stroke-width="1"/>
<path class="t" d="M85.6 493 L111.6 503.6 M87.4 496.6 L112 506.4 M90.4 500.4 L112 509 M94.4 505.4 L112.4 510.8" style="stroke:#fff;stroke-width:.8;stroke-dasharray:1.8 1.3;opacity:.85"/>
<path class="t" d="M84.6 491.6 L111.6 502.6 M86 495 L112 505.2 M89 498.6 L112 507.8 M92.6 503 L112 510" style="stroke:#fff;stroke-width:.5;stroke-dasharray:1 2;opacity:.7"/>
<path class="l" d="M88 480.2 L88 489.5 L112.1 497 L114.8 491.4 M89.4 481.4 L93.8 477 L110.4 482.8 L113.4 486 M90.2 482.6 L90.2 489.2" style="stroke-width:.9"/>
<path class="l" d="M96.6 485.6 L101.6 487.2 Q103 487.8 103 489.2 L103 490.6 Q103 491.8 101.6 491.6 L96.8 490.2 Q95.5 489.8 95.5 488.4 L95.5 486.6 Q95.5 485.4 96.6 485.6Z" style="stroke-width:1.5"/>
<path class="h" d="M92.4 487.8 l1.6 .5 M105.4 492 l.9 .3" style="stroke-width:1.3"/>
<path class="h" d="M114.6 484.6 L115.4 491.6" style="stroke-width:1.6"/>
<circle class="l" cx="78.9" cy="479.8" r="1.6" style="stroke-width:1.1"/>
<path class="h" d="M80.6 476.6 L83 479.6 L83 482" style="stroke-width:1.3"/>
<circle class="l" cx="118" cy="493.2" r="2.1" style="stroke-width:1.2"/>
<circle class="l" cx="127" cy="490.4" r="1.2" style="stroke-width:.8"/>
<path class="l" d="M120.6 488.4 L130.4 489.2 L131.4 490.6 M128.8 499.1 L123.4 500 L113 497.6 M131.4 490.6 L126.6 499.4 L126.1 520 M123.4 500.6 L123.9 521 M112.6 501.8 L115.4 502.8 L116.4 518.4 M97.1 511.2 L115.4 516.2 L122.9 520.2 M121.4 488 L122.4 490" style="stroke-width:.9"/>
<path class="l" d="M124.6 515.6 h2.8 v3.2 h-2.8Z" style="stroke-width:.8"/>
<ellipse class="k" cx="88.0" cy="518.4" rx="2.43" ry="1.86" transform="rotate(20 88.0 518.4)"/>
<ellipse class="k" cx="103.6" cy="524.1" rx="2.43" ry="1.86" transform="rotate(20 103.6 524.1)"/>
<path class="ld" d="M92.9 527.0 L88.4 519.4"/>
<path class="ld" d="M92.9 527.0 L103.0 524.6"/>
<path class="ld" d="M88.6 518.0 L96.0 513.6"/>
<path class="ld" d="M104.2 523.6 L112.0 519.6"/>
<path class="ld" d="M128.4 506.6 L143.4 506.6"/>
</g>
<g id="fwd">
<path class="w" d="M35.7 564.3 L47.9 547.9 L49.3 550.7 L60.7 545 L62.9 556.4 L49.3 562.9 L50 568.6Z" style="stroke-width:.8;stroke:#333"/>
<path class="t" d="M37.6 564 L48.2 549.8 M50.6 551.6 L60 547 L61.6 555.6" style="stroke-width:.5"/>
<text transform="translate(46.1 564) skewY(-20) scale(0.47 1)" font-size="12" font-weight="bold" fill="#000" stroke="#000" stroke-width=".3" style="font-family:'Liberation Sans',sans-serif">FWD</text>
</g>
</svg>
</body></html>
